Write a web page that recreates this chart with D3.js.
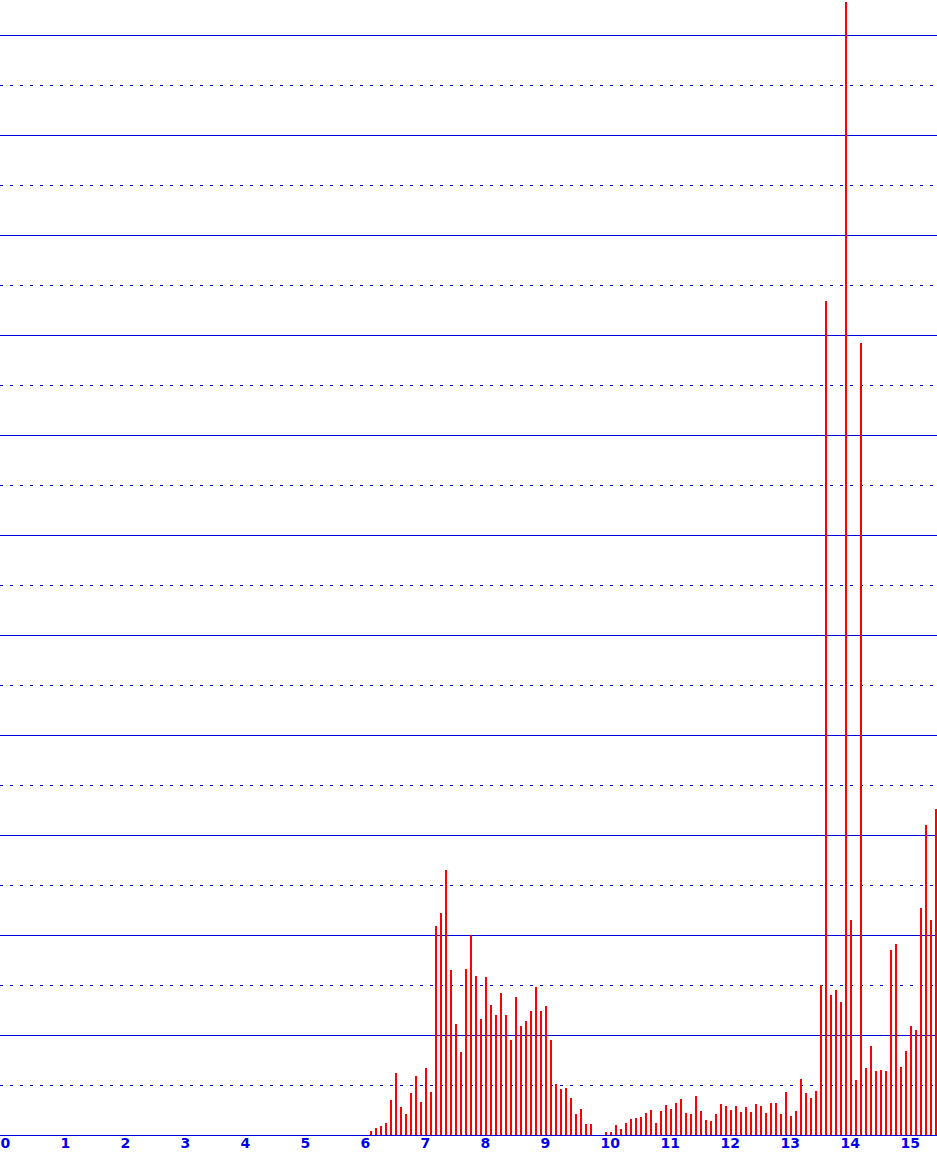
<!DOCTYPE html>
<html>
<head>
<meta charset="utf-8">
<script src="https://cdn.jsdelivr.net/npm/d3@7"></script>
<style>
  html, body { margin: 0; padding: 0; background: #ffffff; }
  svg { display: block; }
</style>
</head>
<body>
<svg id="chart" width="937" height="1155"></svg>
<script>
// ---- data ----
// x tick labels
const xTicks = [0,1,2,3,4,5,6,7,8,9,10,11,12,13,14,15];
// grid values (every 10 units; every 20 is a solid line)
const gridValues = [10,20,30,40,50,60,70,80,90,100,110,120,130,140,150,160,170,180,190,200,210,220];
// bin width of the histogram (x units) and index of first listed bin
const binWidth = 1/12;
const firstBinIndex = 74;
// bar heights, one per bin, starting at bin 74 (x = 74/12)
const barValues = [
  0.8, 1.5, 1.8, 2.4, 7, 12.4, 5.6, 4.2, 8.4, 11.8, 6.6, 13.4, 8.6,
  41.8, 44.4, 53, 33, 22.2, 16.6, 33.2, 40, 31.8, 23.2, 31.6, 26, 24,
  28.4, 24, 19, 27.6, 21.8, 22.8, 24.8, 29.6, 24.8, 25.8, 19, 10.2, 9.2,
  9.4, 7.4, 4.2, 5.2, 2.2, 2.2, 0, 0, 0.6, 0.6, 2, 1.2, 2.4, 3.2, 3.4,
  3.6, 4.4, 5, 2.4, 4.8, 6, 5.2, 6.4, 7.2, 4.4, 4.2, 7.8, 4.8, 3, 2.8,
  4.2, 6.2, 5.8, 5, 5.8, 4.6, 5.6, 4.6, 6.2, 5.8, 4.4, 6.4, 6.4, 4.2,
  8.6, 3.8, 4.8, 11.2, 8.4, 7.4, 8.8, 30, 166.8, 28, 29, 26.6, 226.6,
  43, 11, 158.4, 13.4, 17.8, 12.8, 13, 12.8, 37, 38.2, 13.6, 16.8, 21.8,
  21, 45.4, 62, 43, 65.2
];

// ---- layout ----
const W = 937, H = 1155;
const baseY = 1135;
const svg = d3.select("#chart");

const x = d3.scaleLinear().domain([0, W / 60]).range([0, W]);
const y = d3.scaleLinear().domain([0, 227]).range([baseY, 0]);

const gridColor = "#0000dd";
const labelColor = "#0000ee";

// grid lines via axis (d3 axis already applies the 0.5px offset)
const gridAxis = d3.axisLeft(y).tickValues(gridValues).tickSize(-W).tickFormat("");
const grid = svg.append("g").call(gridAxis);
grid.select(".domain").remove();
grid.selectAll(".tick line")
  .attr("x1", 0).attr("x2", W)
  .attr("stroke", gridColor)
  .attr("stroke-width", 1)
  .attr("shape-rendering", "crispEdges")
  .attr("stroke-dasharray", d => (d % 20 === 0) ? null : "3,7");

// bars
const bars = barValues.map((v, i) => ({ x: (firstBinIndex + i) * binWidth, v }));
svg.append("g").selectAll("rect")
  .data(bars.filter(d => d.v > 0))
  .join("rect")
  .attr("x", d => Math.round(x(d.x)))
  .attr("width", 2)
  .attr("y", d => Math.round(y(d.v)))
  .attr("height", d => baseY - Math.round(y(d.v)))
  .attr("fill", "#ff0000")
  .attr("shape-rendering", "crispEdges");

// baseline
svg.append("line")
  .attr("x1", 0).attr("x2", W)
  .attr("y1", baseY + 0.5).attr("y2", baseY + 0.5)
  .attr("stroke", gridColor).attr("stroke-width", 1)
  .attr("shape-rendering", "crispEdges");

// x axis labels
const xAxis = d3.axisBottom(x).tickValues(xTicks).tickSize(0).tickPadding(0).tickFormat(d3.format("d"));
const ax = svg.append("g").attr("transform", `translate(0,${baseY})`).call(xAxis);
ax.select(".domain").remove();
ax.selectAll(".tick text")
  .attr("text-anchor", "start")
  .attr("dy", null)
  .attr("y", 13)
  .attr("fill", labelColor)
  .style("font-family", "'DejaVu Sans', sans-serif")
  .style("font-weight", "bold")
  .style("font-size", "14px");
</script>
</body>
</html>
